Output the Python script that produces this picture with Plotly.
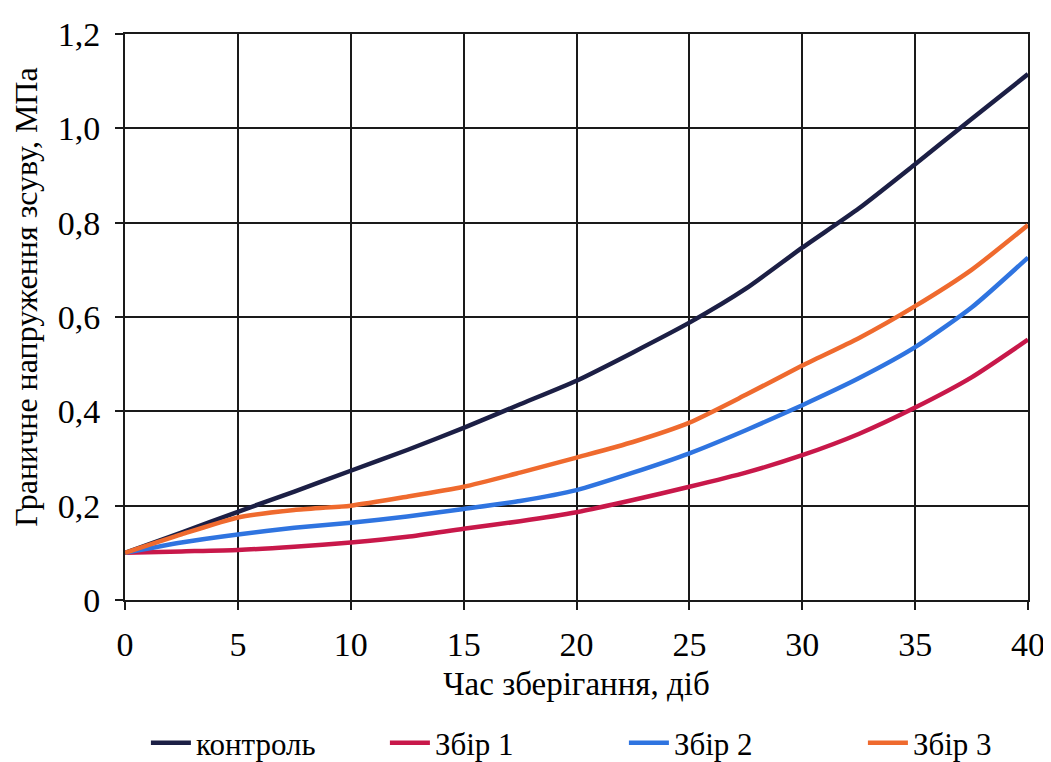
import plotly.graph_objects as go

days = [0, 2.5, 5, 7.5, 10, 12.5, 15, 17.5, 20, 22.5, 25, 27.5, 30, 32.5, 35, 37.5, 40]
control = [0.10, 0.143, 0.187, 0.230, 0.274, 0.318, 0.365, 0.415, 0.465, 0.525, 0.588, 0.660, 0.747, 0.830, 0.924, 1.020, 1.115]
zbir1 = [0.10, 0.103, 0.106, 0.113, 0.122, 0.134, 0.151, 0.167, 0.186, 0.212, 0.240, 0.270, 0.307, 0.352, 0.408, 0.472, 0.552]
zbir2 = [0.10, 0.122, 0.139, 0.153, 0.164, 0.177, 0.193, 0.210, 0.233, 0.270, 0.311, 0.360, 0.413, 0.470, 0.536, 0.620, 0.726]
zbir3 = [0.10, 0.139, 0.175, 0.191, 0.200, 0.219, 0.240, 0.270, 0.302, 0.335, 0.376, 0.435, 0.497, 0.555, 0.623, 0.700, 0.795]

names = ["контроль", "Збір 1", "Збір 2", "Збір 3"]
colors = ["#1c1f45", "#c8184a", "#2f74e0", "#ef6a2e"]

x_ticks = [0, 5, 10, 15, 20, 25, 30, 35, 40]
y_ticks = [0, 0.2, 0.4, 0.6, 0.8, 1.0, 1.2]
y_tick_labels = ["0", "0,2", "0,4", "0,6", "0,8", "1,0", "1,2"]
x_title = "Час зберігання, діб"
y_title = "Граничне напруження зсуву, МПа"

fig = go.Figure()
for name, vals, col in zip(names, [control, zbir1, zbir2, zbir3], colors):
    fig.add_trace(go.Scatter(x=days, y=vals, mode="lines", name=name,
                             line=dict(color=col, width=4.5, shape="spline", smoothing=0.6)))

font_family = "Liberation Serif, Times New Roman, serif"
fig.update_layout(
    width=1051, height=762,
    margin=dict(l=117, r=31, t=26, b=170, autoexpand=False),
    paper_bgcolor="white", plot_bgcolor="white",
    font=dict(family=font_family, size=30, color="black"),
    showlegend=True,
    legend=dict(orientation="h", x=-0.0001, xanchor="left", y=-0.2527, yanchor="middle",
                entrywidthmode="pixels", entrywidth=184,
                borderwidth=21, bordercolor="rgba(255,255,255,0)",
                font=dict(family=font_family, size=31, color="black"),
                itemwidth=40, tracegroupgap=0, bgcolor="rgba(0,0,0,0)"),
    xaxis=dict(range=[0, 40], tickvals=x_ticks, ticktext=[str(v) for v in x_ticks],
               showgrid=True, gridcolor="#1a1a1a", gridwidth=2,
               showline=True, linecolor="#1a1a1a", linewidth=2, mirror=True,
               ticks="outside", ticklen=8, tickwidth=2, tickcolor="#1a1a1a",
               tickfont=dict(size=34), zeroline=False, ticklabelstandoff=5,
               title=dict(text=x_title, font=dict(size=33), standoff=10)),
    yaxis=dict(range=[0, 1.2], tickvals=y_ticks, ticktext=y_tick_labels,
               showgrid=True, gridcolor="#1a1a1a", gridwidth=2,
               showline=True, linecolor="#1a1a1a", linewidth=2, mirror=True,
               ticks="outside", ticklen=8, tickwidth=2, tickcolor="#1a1a1a",
               tickfont=dict(size=34), zeroline=False, ticklabelstandoff=8),
    annotations=[dict(text=y_title, textangle=-90, xref="paper", yref="paper",
                      x=-0.109, y=0.535, xanchor="center", yanchor="middle",
                      showarrow=False, font=dict(family=font_family, size=32, color="black"))],
)

fig.write_html("out.html")
